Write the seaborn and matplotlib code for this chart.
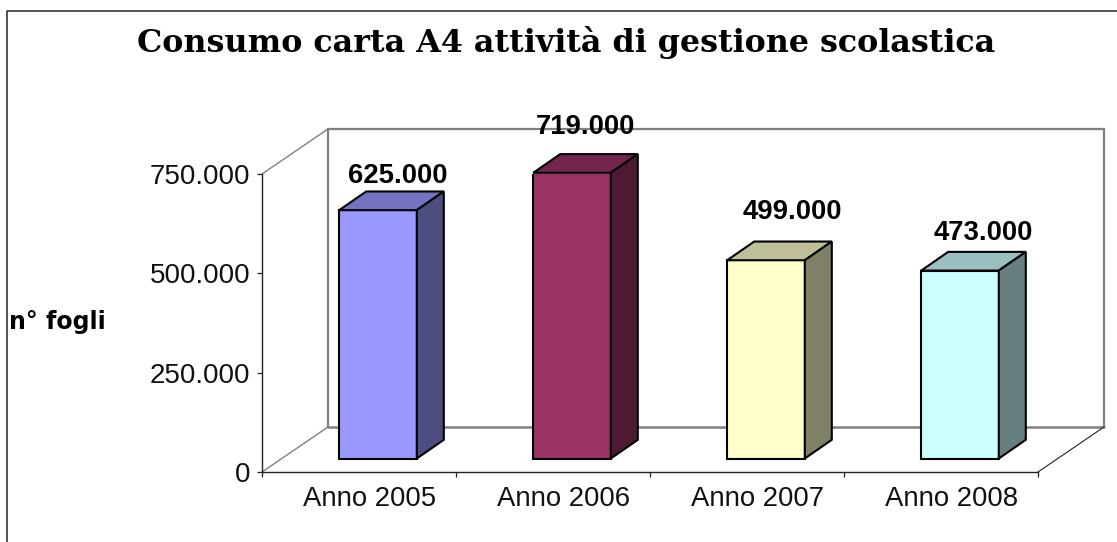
import numpy as np
import pandas as pd
import matplotlib
matplotlib.use("Agg")
import matplotlib.pyplot as plt
from matplotlib.lines import Line2D
from matplotlib.patches import Polygon
from matplotlib.ticker import FuncFormatter, FixedLocator
from matplotlib.colors import to_rgb
import seaborn as sns

years = ["Anno 2005", "Anno 2006", "Anno 2007", "Anno 2008"]
sheets = [625000, 719000, 499000, 473000]
colors = ["#9999FF", "#993366", "#FFFFCC", "#CCFFFF"]
y_ticks = [0, 250000, 500000, 750000]

W, H = 1117, 542
AX_L, AX_R, AX_B, AX_T = 262, 1038, 472, 174   # pixels
PX_X = 4 / (AX_R - AX_L)      # category units per pixel
PX_Y = 750000 / (AX_B - AX_T) # value units per pixel

sns.set_theme(style="white")
plt.rcParams["font.family"] = ["Liberation Sans", "DejaVu Sans"]

fig = plt.figure(figsize=(W / 100, H / 100), dpi=100, facecolor="white")
ax = fig.add_axes([AX_L / W, 1 - AX_B / H, (AX_R - AX_L) / W, (AX_B - AX_T) / H])
ax.patch.set_visible(False)

df = pd.DataFrame({"anno": years, "fogli": sheets})
sns.barplot(data=df, x="anno", y="fogli", hue="anno", palette=colors, legend=False,
            width=0.4, bottom=13.5 * PX_Y, saturation=1, edgecolor="black",
            linewidth=1.5, ax=ax, zorder=3)
ax.set_xlim(-0.5, 3.5)
ax.set_ylim(0, 750000)
ax.set_xlabel("")

# Depth of the pseudo-3D wall and bars
wall_dx, wall_dy = 66 * PX_X, 45 * PX_Y
bar_dx, bar_dy = 27 * PX_X, 18.7 * PX_Y
bar_shift = 19.0 * PX_X

# Back wall and floor
grey = "#808080"
x0, x1 = -0.5, 3.5
ax.plot([x0 + wall_dx, x0 + wall_dx, x1 + wall_dx, x1 + wall_dx],
        [wall_dy, 750000 + wall_dy, 750000 + wall_dy, wall_dy],
        color=grey, lw=1.6, clip_on=False, zorder=1, solid_joinstyle="miter")
ax.plot([x0 + wall_dx, x1 + wall_dx], [wall_dy, wall_dy], color=grey, lw=1.8, clip_on=False, zorder=1)
ax.plot([x0, x0 + wall_dx], [0, wall_dy], color=grey, lw=1.0, clip_on=False, zorder=1)
ax.plot([x0, x0 + wall_dx], [750000, 750000 + wall_dy], color=grey, lw=1.0, clip_on=False, zorder=1)
ax.plot([x1, x1 + wall_dx], [0, wall_dy], color="#222222", lw=0.8, clip_on=False, zorder=1)

# Top and side faces of each bar
label_dx_px = [20, 14, 26, 23]
label_dy_px = [34, 46, 48, 38]
for bar, c, v, ldx, ldy in zip(ax.patches, colors, sheets, label_dx_px, label_dy_px):
    bar.set_x(bar.get_x() + bar_shift)
    bar.set_joinstyle("miter")
    xl, xr = bar.get_x(), bar.get_x() + bar.get_width()
    yb, yt = bar.get_y(), bar.get_y() + bar.get_height()
    rgb = np.array(to_rgb(c))
    ax.add_patch(Polygon([(xl, yt), (xr, yt), (xr + bar_dx, yt + bar_dy), (xl + bar_dx, yt + bar_dy)],
                         facecolor=rgb * 0.75, edgecolor="black", lw=1.5, zorder=3, clip_on=False))
    ax.add_patch(Polygon([(xr, yb), (xr + bar_dx, yb + bar_dy), (xr + bar_dx, yt + bar_dy), (xr, yt)],
                         facecolor=rgb * 0.5, edgecolor="black", lw=1.5, zorder=3, clip_on=False))
    ax.annotate(f"{v:,}".replace(",", "."), xy=((xl + xr) / 2, yt),
                xytext=(ldx * 0.72, ldy * 0.72), textcoords="offset points",
                ha="center", va="center", fontsize=19.8, fontweight="bold",
                color="black", annotation_clip=False, zorder=5)

# Axes
sns.despine(ax=ax, top=True, right=True)
for s in ("left", "bottom"):
    ax.spines[s].set_color("#222222")
    ax.spines[s].set_linewidth(1.0)
ax.yaxis.set_major_locator(FixedLocator(y_ticks))
ax.yaxis.set_major_formatter(FuncFormatter(lambda v, _: f"{int(v):,}".replace(",", ".")))
ax.tick_params(axis="y", which="major", left=True, length=3.6, width=0.9, color="#222222",
               pad=5, labelsize=20, labelcolor="#111111")
pos = np.arange(len(years))
ax.xaxis.set_major_locator(FixedLocator(np.arange(len(years) + 1) - 0.5))
ax.xaxis.set_major_formatter(plt.NullFormatter())
ax.xaxis.set_minor_locator(FixedLocator(pos + 11 * PX_X))
ax.set_xticklabels(years, minor=True)
ax.tick_params(axis="x", which="major", bottom=True, length=3.6, width=0.9, color="#222222")
ax.tick_params(axis="x", which="minor", bottom=False, length=0, pad=10, labelsize=19.8, labelcolor="#111111")

ax.set_ylabel("n° fogli", rotation=0, fontsize=17, fontweight="bold", color="black",
              family=["DejaVu Sans"], ha="center", va="center")
ax.yaxis.set_label_coords((57.5 - AX_L) / (AX_R - AX_L), (AX_B - 322) / (AX_B - AX_T))

fig.text(566 / W, 1 - 42 / H, "Consumo carta A4 attività di gestione scolastica",
         family=["DejaVu Serif"], fontweight="bold", fontsize=22.9, ha="center", va="center", color="black")

# Outer frame (only left and top visible)
fig.add_artist(Line2D([6.5 / W, 6.5 / W, 1], [0, 1 - 11 / H, 1 - 11 / H], color="#222222", lw=1.1,
                      transform=fig.transFigure))

fig.savefig("out.png", dpi=100, facecolor="white")
